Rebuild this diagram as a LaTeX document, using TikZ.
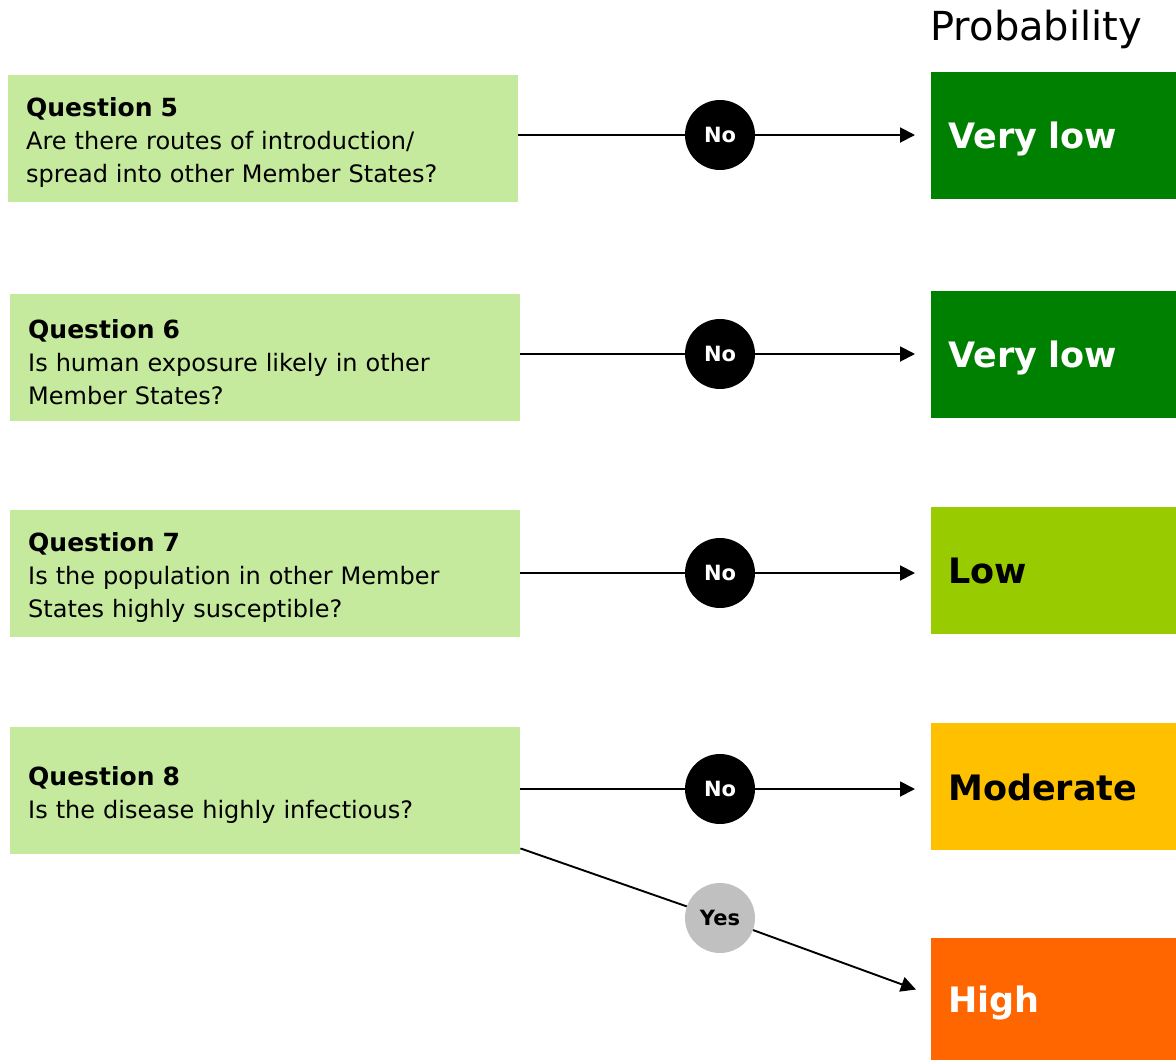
\documentclass[tikz,border=0pt]{standalone}
\usepackage{fontspec}
\setmainfont{DejaVu Sans}
\usetikzlibrary{arrows.meta}
\definecolor{qgreen}{HTML}{C5E99D}
\definecolor{vlow}{HTML}{008000}
\definecolor{low}{HTML}{99CC00}
\definecolor{moder}{HTML}{FFC000}
\definecolor{high}{HTML}{FF6600}
\definecolor{ygrey}{HTML}{C0C0C0}
\newcommand{\qtitle}[1]{\rule{0pt}{27pt}{\fontsize{25}{33}\selectfont\bfseries #1}}
\begin{document}
\begin{tikzpicture}[x=1pt,y=-1pt,
  qbox/.style={fill=qgreen, anchor=north west, minimum width=510pt, minimum height=127pt,
    inner xsep=18pt, inner ysep=0pt, text width=474pt, align=left,
    font=\fontsize{24}{33}\selectfont},
  rbox/.style={anchor=north west, minimum width=245pt, minimum height=127pt,
    inner xsep=17pt, inner ysep=0pt, text width=211pt, text depth=0pt, align=left,
    font=\fontsize{35}{40}\selectfont\bfseries},
  circ/.style={circle, minimum size=70pt, inner sep=0pt, font=\fontsize{21}{22}\selectfont\bfseries},
  conn/.style={line width=1.9pt},
  arr/.style={line width=1.9pt, -{Triangle[length=15pt,width=15pt]}, shorten >=16pt}]
\useasboundingbox (0,0) rectangle (1176,1060);

\node[anchor=west, font=\fontsize{40}{44}\selectfont] (prob) at (927,29) {Probability};

\node[qbox] (q5) at (8,75) {\qtitle{Question 5}\\Are there routes of introduction/\\spread into other Member States?};
\node[qbox] (q6) at (10,294) {\qtitle{Question 6}\\Is human exposure likely in other\\Member States?};
\node[qbox] (q7) at (10,510) {\qtitle{Question 7}\\Is the population in other Member\\States highly susceptible?};
\node[qbox] (q8) at (10,727) {\qtitle{Question 8}\\Is the disease highly infectious?};

\node[rbox, fill=vlow, text=white] (r5) at (931,72) {Very low};
\node[rbox, fill=vlow, text=white] (r6) at (931,291) {Very low};
\node[rbox, fill=low] (r7) at (931,507) {Low};
\node[rbox, fill=moder] (r8) at (931,723) {Moderate};
\node[rbox, fill=high, text=white, minimum height=122pt] (r9) at (931,938) {High};

\node[circ, fill=black, text=white] (c5) at (720,135) {No};
\node[circ, fill=black, text=white] (c6) at (720,354) {No};
\node[circ, fill=black, text=white] (c7) at (720,573) {No};
\node[circ, fill=black, text=white] (c8) at (720,789) {No};
\node[circ, fill=ygrey, text=black] (cy) at (720,918) {Yes};

\coordinate (yend) at (931,995);

\draw[conn] (q5.east |- c5) -- (c5);
\draw[arr] (c5) -- (r5.west |- c5);
\draw[conn] (q6.east |- c6) -- (c6);
\draw[arr] (c6) -- (r6.west |- c6);
\draw[conn] (q7.east |- c7) -- (c7);
\draw[arr] (c7) -- (r7.west |- c7);
\draw[conn] (q8.east |- c8) -- (c8);
\draw[arr] (c8) -- (r8.west |- c8);
\draw[conn] ([yshift=6pt]q8.south east) -- (cy);
\draw[arr] (cy) -- (yend);
\end{tikzpicture}
\end{document}
